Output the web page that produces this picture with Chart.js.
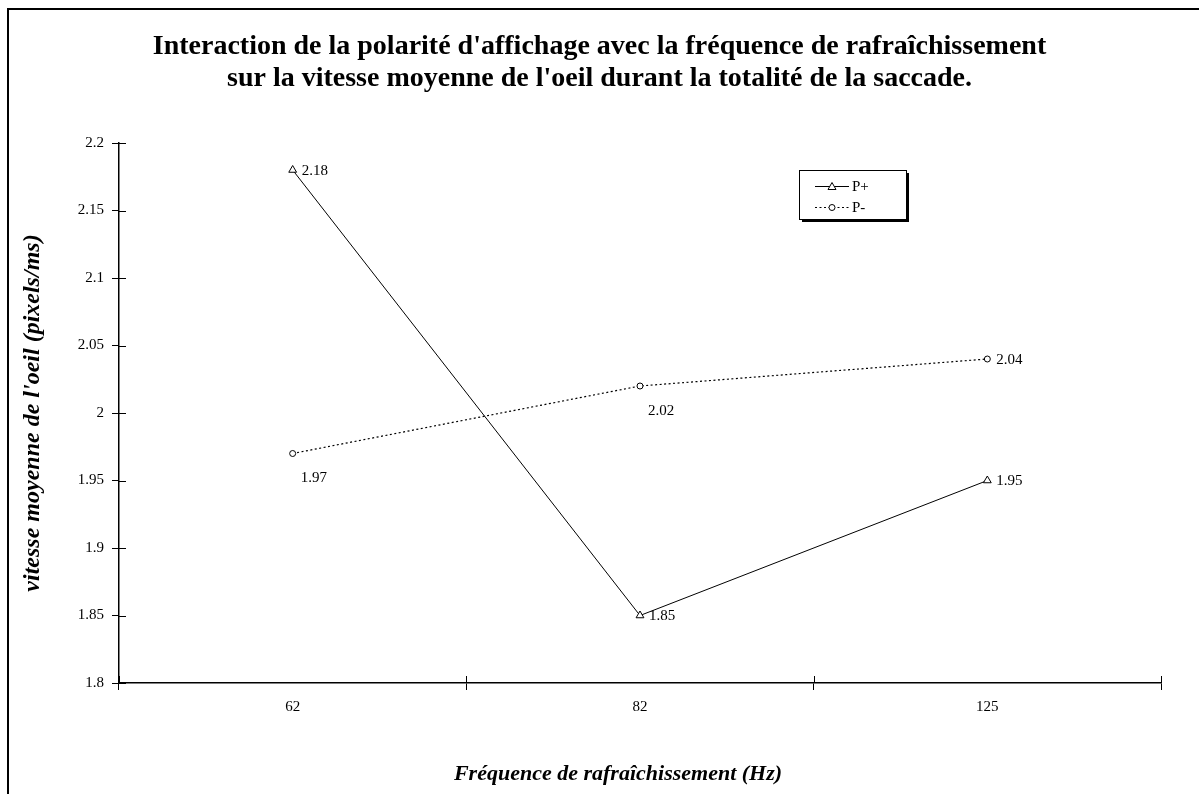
<!DOCTYPE html>
<html>
<head>
<meta charset="utf-8">
<script src="https://cdn.jsdelivr.net/npm/chart.js@4"></script>
<style>
  html, body { margin: 0; padding: 0; background: #fff; }
  #wrap { width: 1199px; height: 794px; }
</style>
</head>
<body>
<div id="wrap"><canvas id="myChart" width="1199" height="794"></canvas></div>
<script>
var frequences = ['62', '82', '125'];
var pPlus = [2.18, 1.85, 1.95];
var pMoins = [1.97, 2.02, 2.04];
var yTicks = [1.8, 1.85, 1.9, 1.95, 2, 2.05, 2.1, 2.15, 2.2];

var serif = '"Liberation Serif", "Times New Roman", serif';

// outer frame (left + top only, like the source)
var framePlugin = {
    id: 'frame',
    beforeDraw: function (chart) {
        var c = chart.ctx;
        c.save();
        c.fillStyle = '#fff';
        c.fillRect(0, 0, chart.width, chart.height);
        c.strokeStyle = '#000';
        c.lineWidth = 2;
        c.beginPath();
        c.moveTo(8, chart.height);
        c.lineTo(8, 9);
        c.lineTo(chart.width, 9);
        c.stroke();
        c.restore();
    }
};

// tick marks crossing the axis (inner half)
var crossTicks = {
    id: 'crossTicks',
    afterDraw: function (chart) {
        var c = chart.ctx;
        var x = chart.scales.x, y = chart.scales.y;
        c.save();
        c.strokeStyle = '#000';
        c.lineWidth = 1;
        c.beginPath();
        for (var i = 0; i < y.ticks.length; i++) {
            var py = Math.round(y.getPixelForTick(i)) + 0.5;
            c.moveTo(y.right, py);
            c.lineTo(y.right + 7, py);
        }
        var n = x.ticks.length;
        for (var j = 0; j <= n; j++) {
            var px = x.left + (x.right - x.left) * j / n;
            px = Math.round(px) + 0.5;
            c.moveTo(px, x.top);
            c.lineTo(px, x.top - 7);
        }
        c.stroke();
        c.restore();
    }
};

// value labels next to points
var valueLabels = {
    id: 'valueLabels',
    afterDatasetsDraw: function (chart) {
        var c = chart.ctx;
        c.save();
        c.fillStyle = '#000';
        c.font = '15px ' + serif;
        chart.data.datasets.forEach(function (ds, di) {
            var meta = chart.getDatasetMeta(di);
            meta.data.forEach(function (pt, i) {
                var place = ds.labelPlace[i];
                var txt = String(ds.data[i]);
                c.textAlign = 'left';
                c.textBaseline = 'middle';
                if (place === 'right') {
                    c.fillText(txt, pt.x + 9, pt.y + 1);
                } else {
                    c.fillText(txt, pt.x + 8, pt.y + 25);
                }
            });
        });
        c.restore();
    }
};

// boxed legend with shadow inside the plot
var boxLegend = {
    id: 'boxLegend',
    afterDraw: function (chart) {
        var c = chart.ctx;
        var a = chart.chartArea;
        var bx = a.right - 362, by = a.top + 27, bw = 107, bh = 49;
        c.save();
        c.fillStyle = '#000';
        c.fillRect(bx + 3, by + 3, bw, bh);
        c.fillStyle = '#fff';
        c.fillRect(bx, by, bw, bh);
        c.strokeStyle = '#000';
        c.lineWidth = 1;
        c.strokeRect(bx + 0.5, by + 0.5, bw, bh);
        chart.data.datasets.forEach(function (ds, di) {
            var ly = by + 16 + di * 21 + 0.5;
            c.beginPath();
            c.setLineDash(ds.borderDash || []);
            c.moveTo(bx + 16, ly);
            c.lineTo(bx + 50, ly);
            c.stroke();
            c.setLineDash([]);
            c.fillStyle = '#fff';
            c.beginPath();
            var cx = bx + 33;
            if (ds.pointStyle === 'triangle') {
                c.moveTo(cx, ly - 4);
                c.lineTo(cx + 4, ly + 3);
                c.lineTo(cx - 4, ly + 3);
                c.closePath();
            } else {
                c.arc(cx, ly, 3, 0, Math.PI * 2);
            }
            c.fill();
            c.stroke();
            c.fillStyle = '#000';
            c.font = '15px ' + serif;
            c.textAlign = 'left';
            c.textBaseline = 'middle';
            c.fillText(ds.label, bx + 53, ly + 1);
        });
        c.restore();
    }
};

var ctx = document.getElementById('myChart').getContext('2d');
var chart = new Chart(ctx, {
    type: 'line',
    data: {
        labels: frequences,
        datasets: [{
            label: 'P+',
            data: pPlus,
            borderColor: '#000',
            borderWidth: 1,
            tension: 0,
            fill: false,
            pointStyle: 'triangle',
            pointRadius: 4.5,
            pointBorderWidth: 1,
            pointBorderColor: '#000',
            pointBackgroundColor: '#fff',
            labelPlace: ['right', 'right', 'right']
        }, {
            label: 'P-',
            data: pMoins,
            borderColor: '#000',
            borderWidth: 1.2,
            borderDash: [2, 2.5],
            tension: 0,
            fill: false,
            pointStyle: 'circle',
            pointRadius: 3,
            pointBorderWidth: 1,
            pointBorderColor: '#000',
            pointBackgroundColor: '#fff',
            labelPlace: ['below', 'below', 'right']
        }]
    },
    options: {
        responsive: false,
        animation: false,
        devicePixelRatio: 1,
        layout: { padding: { left: 38, right: 38, top: 0, bottom: 6 } },
        plugins: {
            legend: { display: false },
            tooltip: { enabled: false },
            title: {
                display: true,
                text: ["Interaction de la polarité d'affichage avec la fréquence de rafraîchissement",
                       "sur la vitesse moyenne de l'oeil durant la totalité de la saccade."],
                color: '#000',
                font: { family: serif, size: 28, weight: 'bold', lineHeight: '32px' },
                padding: { top: 31, bottom: 48 }
            }
        },
        scales: {
            x: {
                type: 'category',
                offset: true,
                grid: {
                    offset: true,
                    drawOnChartArea: false,
                    drawTicks: true,
                    tickLength: 7,
                    color: '#000'
                },
                border: { color: '#000', width: 1.5 },
                ticks: {
                    color: '#000',
                    font: { family: serif, size: 15 },
                    padding: 8
                },
                title: {
                    display: true,
                    text: 'Fréquence de rafraîchissement (Hz)        ',
                    color: '#000',
                    font: { family: serif, size: 22, style: 'italic', weight: 'bold', lineHeight: 1.2 },
                    padding: { top: 4, bottom: 0 }
                },
                afterFit: function (s) { s.height = 105; }
            },
            y: {
                min: 1.8,
                max: 2.2,
                afterBuildTicks: function (s) {
                    s.ticks = yTicks.map(function (v) { return { value: v }; });
                },
                grid: {
                    drawOnChartArea: false,
                    drawTicks: true,
                    tickLength: 7,
                    color: '#000'
                },
                border: { color: '#000', width: 1.5 },
                ticks: {
                    color: '#000',
                    font: { family: serif, size: 15 },
                    padding: 8,
                    callback: function (v) { return String(+Number(v).toFixed(2)); }
                },
                title: {
                    display: true,
                    text: "vitesse moyenne de l'oeil (pixels/ms)",
                    color: '#000',
                    font: { family: serif, size: 24, style: 'italic', weight: 'bold', lineHeight: 1.2 },
                    padding: { top: -20, bottom: 0 }
                },
                afterFit: function (s) { s.width = 81; }
            }
        }
    },
    plugins: [framePlugin, crossTicks, valueLabels, boxLegend]
});
</script>
</body>
</html>
